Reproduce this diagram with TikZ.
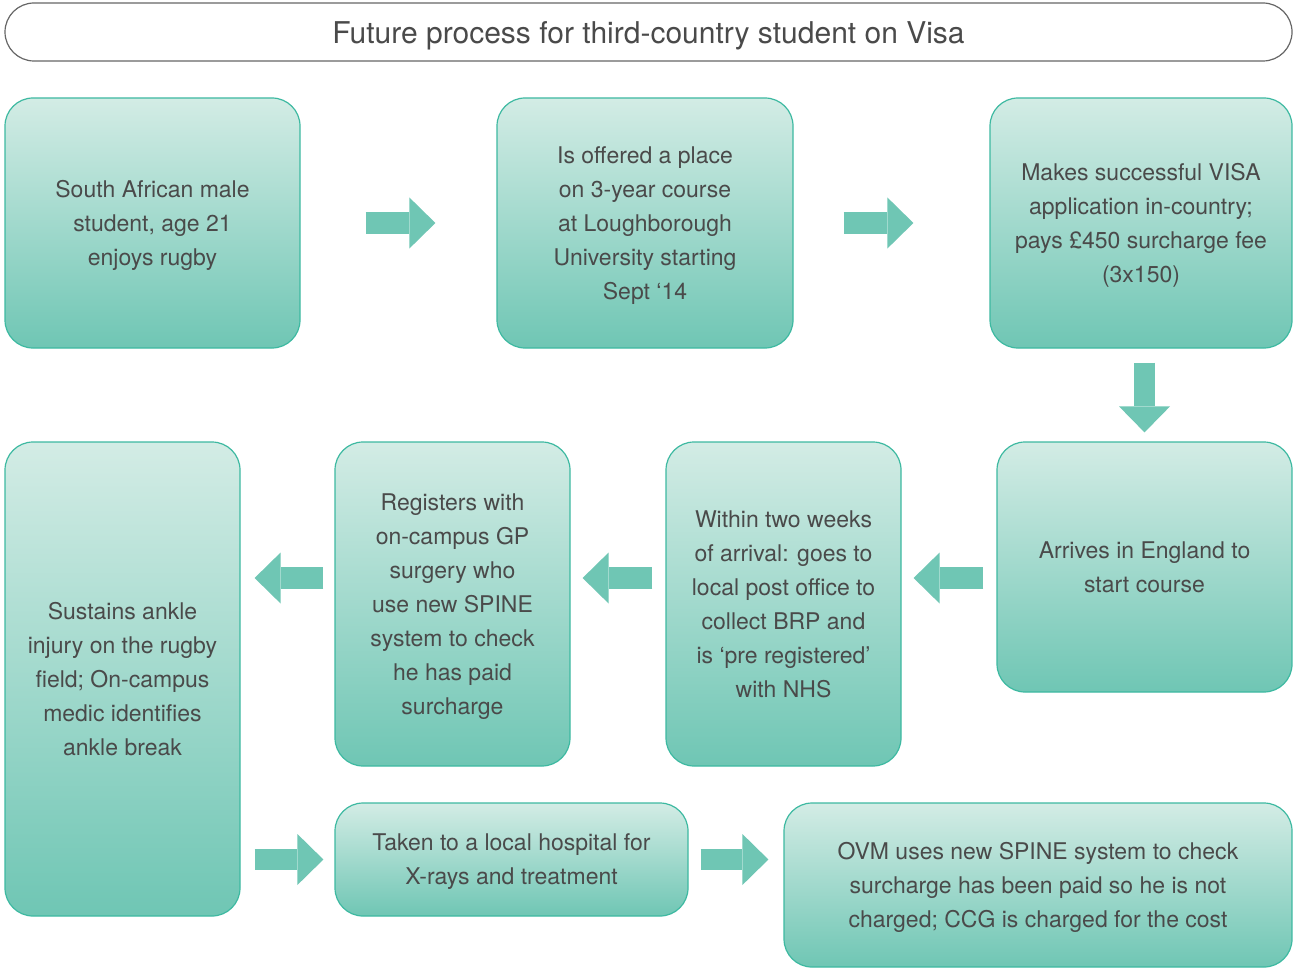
\documentclass[tikz,border=0pt]{standalone}
\usepackage{fontspec}
\setmainfont{TeX Gyre Heros}
\usetikzlibrary{arrows.meta}

\definecolor{mint}{HTML}{6FC6B4}
\definecolor{mintlight}{HTML}{D3ECE5}
\definecolor{mintedge}{HTML}{3DB9A1}
\definecolor{inkgray}{HTML}{4A4A4A}

\begin{document}
\begin{tikzpicture}[x = 0.5pt, y = -0.5pt,
	stage/.style = {rectangle, rounded corners = 14pt, draw = mintedge, line width = 0.6pt,
		top color = mintlight, bottom color = mint, align = center, text = inkgray,
		font = \fontsize{11.5}{17}\selectfont, text depth = -1.5pt},
	headline/.style = {rectangle, rounded corners = 14.5pt, draw = gray!80!black, line width = 0.6pt,
		text = inkgray, font = \fontsize{15}{18}\selectfont,
		execute at begin node = {\rule[-3.1pt]{0pt}{18.1pt}}},
	flow/.style = {mint, line width = 10.8pt, -{Triangle[length = 13pt, width = 25.5pt, line width = 0pt]}}]
	%\draw[help lines] (0,0) grid (1293, 968);
	\useasboundingbox (0,0) rectangle (1293,968);
	
	\node (title) [headline, minimum width = 643.5pt, minimum height = 29pt] at (648.5,32)
		{Future process for third-country student on Visa};
	
	\node (student) [stage, minimum width = 147.5pt, minimum height = 125pt] at (152.5,223)
		{South African male\\
		student, age 21\\
		enjoys rugby};
	\node (offer) [stage, minimum width = 148pt, minimum height = 125pt] at (645,223)
		{Is offered a place\\
		on 3-year course\\
		at Loughborough\\
		University starting\\
		Sept ‘14};
	\node (visa) [stage, minimum width = 151pt, minimum height = 125pt] at (1141,223)
		{Makes successful VISA\\
		application in-country;\\
		pays £450 surcharge fee\\
		(3x150)};
	
	\node (arrive) [stage, minimum width = 147.5pt, minimum height = 125pt] at (1144.5,567)
		{Arrives in England to\\
		start course};
	\node (brp) [stage, minimum width = 117.5pt, minimum height = 162pt] at (783.5,604)
		{Within two weeks\\
		of arrival: goes to\\
		local post office to\\
		collect BRP and\\
		is ‘pre registered’\\
		with NHS};
	\node (gp) [stage, minimum width = 117.5pt, minimum height = 162pt] at (452.5,604)
		{Registers with\\
		on-campus GP\\
		surgery who\\
		use new SPINE\\
		system to check\\
		he has paid\\
		surcharge};
	\node (injury) [stage, minimum width = 117.5pt, minimum height = 237pt] at (122.5,679)
		{Sustains ankle\\
		injury on the rugby\\
		field; On-campus\\
		medic identifies\\
		ankle break};
	
	\node (hospital) [stage, minimum width = 176.5pt, minimum height = 56.5pt] at (511.5,859.5)
		{Taken to a local hospital for\\
		X-rays and treatment};
	\node (ovm) [stage, minimum width = 254pt, minimum height = 82pt] at (1038,885)
		{OVM uses new SPINE system to check\\
		surcharge has been paid so he is not\\
		charged; CCG is charged for the cost};
	
	\coordinate (lane) at (0,578);
	
	\begin{scope}[flow]
		\draw[shorten <= 32.5pt, shorten >= 30.5pt] (student.east) -- (offer.west);
		\draw[shorten <= 25pt, shorten >= 38pt] (offer.east) -- (visa.west);
		\draw[shorten <= 7pt, shorten >= 4.5pt] (visa.south -| arrive.north) -- (arrive.north);
		\draw[shorten <= 6.5pt, shorten >= 6pt] (arrive.west |- lane) -- (brp.east |- lane);
		\draw[shorten <= 6.5pt, shorten >= 6pt] (brp.west |- lane) -- (gp.east |- lane);
		\draw[shorten <= 5.5pt, shorten >= 7pt] (gp.west |- lane) -- (injury.east |- lane);
		\draw[shorten <= 7pt, shorten >= 5.5pt] (injury.east |- hospital.west) -- (hospital.west);
		\draw[shorten <= 6pt, shorten >= 7.5pt] (hospital.east) -- (hospital.east -| ovm.west);
	\end{scope}
\end{tikzpicture}
\end{document}
